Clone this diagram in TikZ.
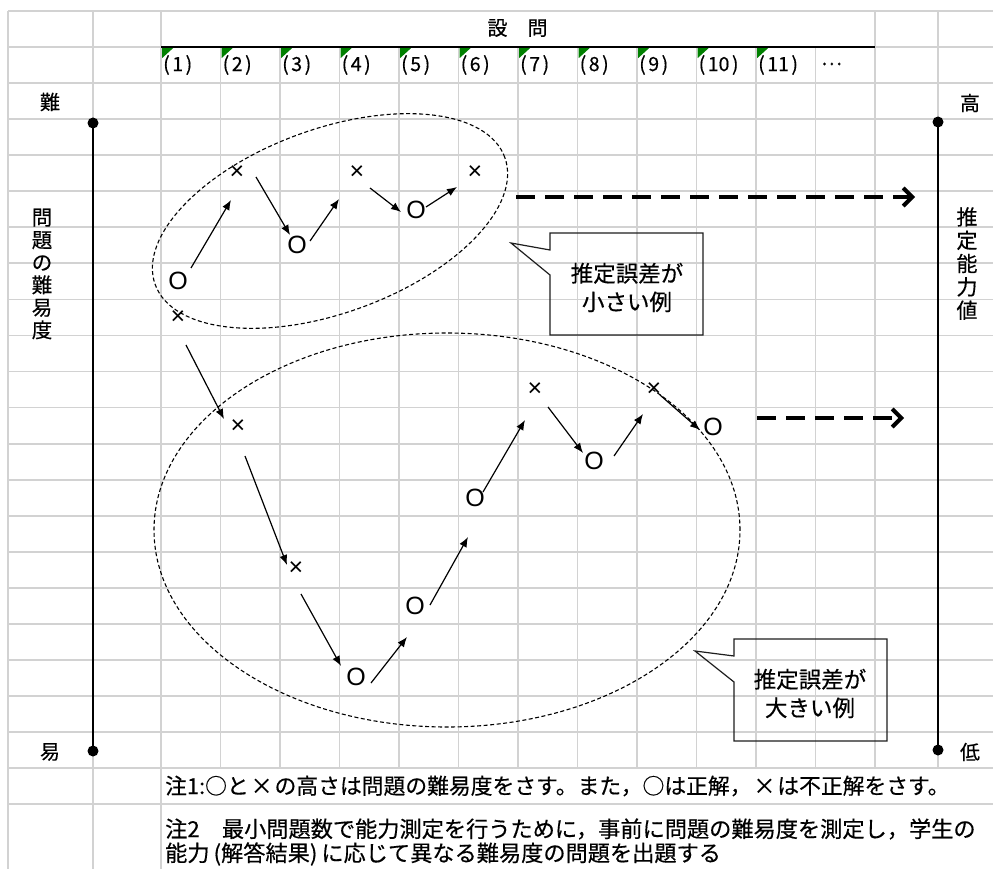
\documentclass[tikz,border=0pt]{standalone}
\usepackage{fontspec}
\setmainfont{Liberation Sans}
\newfontfamily\jp[FakeBold=0.4]{Noto Sans CJK JP}
\usetikzlibrary{arrows.meta,calc}
\definecolor{gridc}{RGB}{210,210,210}
\definecolor{tri}{RGB}{0,128,0}
\definecolor{boxc}{RGB}{30,30,30}
\begin{document}
\begin{tikzpicture}[x=1pt,y=-1pt,
  gridline/.style={draw=gridc,line width=1.8pt},
  axisline/.style={line width=2.6pt,black},
  dot/.style={circle,fill=black,inner sep=0pt,minimum size=11pt},
  mk/.style={inner sep=0pt,font=\fontsize{25}{25}\selectfont},
  arr/.style={-{Latex[length=10pt,width=8pt]},line width=1.2pt},
  bigarr/.style={-{Straight Barb[length=9pt,width=18pt]},line width=4pt,dash pattern=on 19pt off 10pt},
  lab/.style={inner sep=0pt,font=\jp\fontsize{19.5}{19.5}\selectfont},
  labb/.style={inner sep=0pt,font=\jp\fontsize{20}{20}\selectfont},
  ctext/.style={inner sep=0pt,align=center,font=\jp\fontsize{22.5}{28.5}\selectfont},
  callout/.style={draw=boxc,line width=1.2pt},
  note/.style={inner sep=0pt,anchor=west,font=\jp\fontsize{21.8}{21.8}\selectfont},
  noteb/.style={inner sep=0pt,anchor=west,font=\jp\fontsize{22.2}{22.2}\selectfont},
  oval/.style={draw=black,line width=1.1pt,dash pattern=on 4pt off 2.5pt}
]
\useasboundingbox (0,0) rectangle (993,869);
\fill[white] (0,0) rectangle (993,869);
% grid
\foreach \k in {0,...,22} \draw[gridline] (8,{11+36.05*\k}) -- (993,{11+36.05*\k});
\foreach \xx in {8,93,161} \draw[gridline] (\xx,11) -- (\xx,869);
\foreach \k in {1,...,11} \draw[gridline] ({161+59.5*\k},47.05) -- ({161+59.5*\k},768.05);
\foreach \xx in {875,938} \draw[gridline] (\xx,11) -- (\xx,768.05);
% header
\draw[line width=2pt] (161,47) -- (875,47);
\foreach \k in {0,...,10} \fill[tri] ({161+59.5*\k+1},48.2) -- ++(11,0) -- ++(-11,10) -- cycle;
\node[labb] (hdr) at (517.5,28) {設　問};
\foreach \k in {1,...,11} \node[lab,anchor=west] (q\k) at ({161+59.5*(\k-1)+2},65) {(\kern2.5pt\k\kern2.5pt)};
\node[lab,anchor=west] (qdots) at (821,64) {…};
% axes
\node[dot] (lt) at (93,123) {};
\node[dot] (lb) at (93,751) {};
\draw[axisline] (lt.center) -- (lb.center);
\node[dot] (rt) at (938,122) {};
\node[dot] (rb) at (938,750) {};
\draw[axisline] (rt.center) -- (rb.center);
\node[labb] (nan) at (50,102) {難};
\node[labb] (eki) at (50,752) {易};
\node[labb] (kou) at (970,103) {高};
\node[labb] (tei) at (970,752) {低};
\node[inner sep=0pt,align=center,font=\jp\fontsize{20.5}{22.5}\selectfont] (vl) at (42,274) {問\\題\\の\\難\\易\\度};
\node[inner sep=0pt,align=center,font=\jp\fontsize{21}{23.3}\selectfont] (vr) at (967,263.5) {推\\定\\能\\力\\値};
% ellipses
\draw[oval,rotate around={20:(330,221)}] (330,221) ellipse [x radius=186pt, y radius=92pt];
\draw[oval] (447,530) ellipse [x radius=293pt, y radius=197pt];
% upper series
\node[mk] (o1) at (178,281) {O};
\node[mk] (x1) at (237,173) {×};
\node[mk] (o2) at (297,245) {O};
\node[mk] (x2) at (357,173) {×};
\node[mk] (o3) at (416,210) {O};
\node[mk] (x3) at (475,173) {×};
\draw[arr] ($(o1)+(13,-13)$) -- ($(x1)+(-6,27)$);
\draw[arr] ($(x1)+(19,4)$) -- ($(o2)+(-7,-10)$);
\draw[arr] ($(o2)+(13,-4)$) -- ($(x2)+(-18,26)$);
\draw[arr] ($(x2)+(13,15)$) -- ($(o3)+(-15,2)$);
\draw[arr] ($(o3)+(10,-3)$) -- ($(x3)+(-18,14)$);
% lower series
\node[mk] (x4) at (178,318) {×};
\node[mk] (x5) at (238,427) {×};
\node[mk] (x6) at (296,569) {×};
\node[mk] (o4) at (356,677) {O};
\node[mk] (o5) at (415,606) {O};
\node[mk] (o6) at (475,498) {O};
\node[mk] (x7) at (535,390) {×};
\node[mk] (o7) at (594,461) {O};
\node[mk] (x8) at (654,390) {×};
\node[mk] (o8) at (713,427) {O};
\draw[arr] ($(x4)+(8,27)$) -- ($(x5)+(-14,-8)$);
\draw[arr] ($(x5)+(7,29)$) -- ($(x6)+(-9,-4)$);
\draw[arr] ($(x6)+(5,25)$) -- ($(o4)+(-15,-11)$);
\draw[arr] ($(o4)+(15,6)$) -- ($(o5)+(-8,31)$);
\draw[arr] ($(o5)+(15,-1)$) -- ($(o6)+(-7,39)$);
\draw[arr] ($(o6)+(8,-6)$) -- ($(x7)+(-10,30)$);
\draw[arr] ($(x7)+(13,17)$) -- ($(o7)+(-11,-8)$);
\draw[arr] ($(o7)+(20,-5)$) -- ($(x8)+(-11,24)$);
\draw[arr] ($(x8)+(6,5)$) -- ($(o8)+(-13,3)$);
% dashed arrows
\coordinate (ua0) at (516,197);
\coordinate (ua1) at (915,197);
\draw[bigarr] (ua0) -- (ua1);
\coordinate (la0) at (757,418);
\coordinate (la1) at (904,418);
\draw[bigarr] (la0) -- (la1);
% callouts
\draw[callout] (550,233) -- (703,233) -- (703,335) -- (550,335) -- (550,275) -- (511,243) -- (550,250) -- cycle;
\node[ctext] (c1) at (627,287.5) {推定誤差が\\小さい例};
\draw[callout] (734,639) -- (887,639) -- (887,741) -- (734,741) -- (734,682) -- (695,651) -- (734,656) -- cycle;
\node[ctext] (c2) at (810,693.5) {推定誤差が\\大きい例};
% notes
\node[note] (n1) at (165,786) {注1:○と\kern2pt×\kern2pt の高さは問題の難易度をさす。また，○は正解，\kern2pt×\kern2pt は不正解をさす。};
\node[noteb] (n2a) at (165,829) {注2　最小問題数で能力測定を行うために，事前に問題の難易度を測定し，学生の};
\node[noteb] (n2b) at (165,854) {能力\kern4pt(解答結果)\kern4pt に応じて異なる難易度の問題を出題する};
\end{tikzpicture}
\end{document}
